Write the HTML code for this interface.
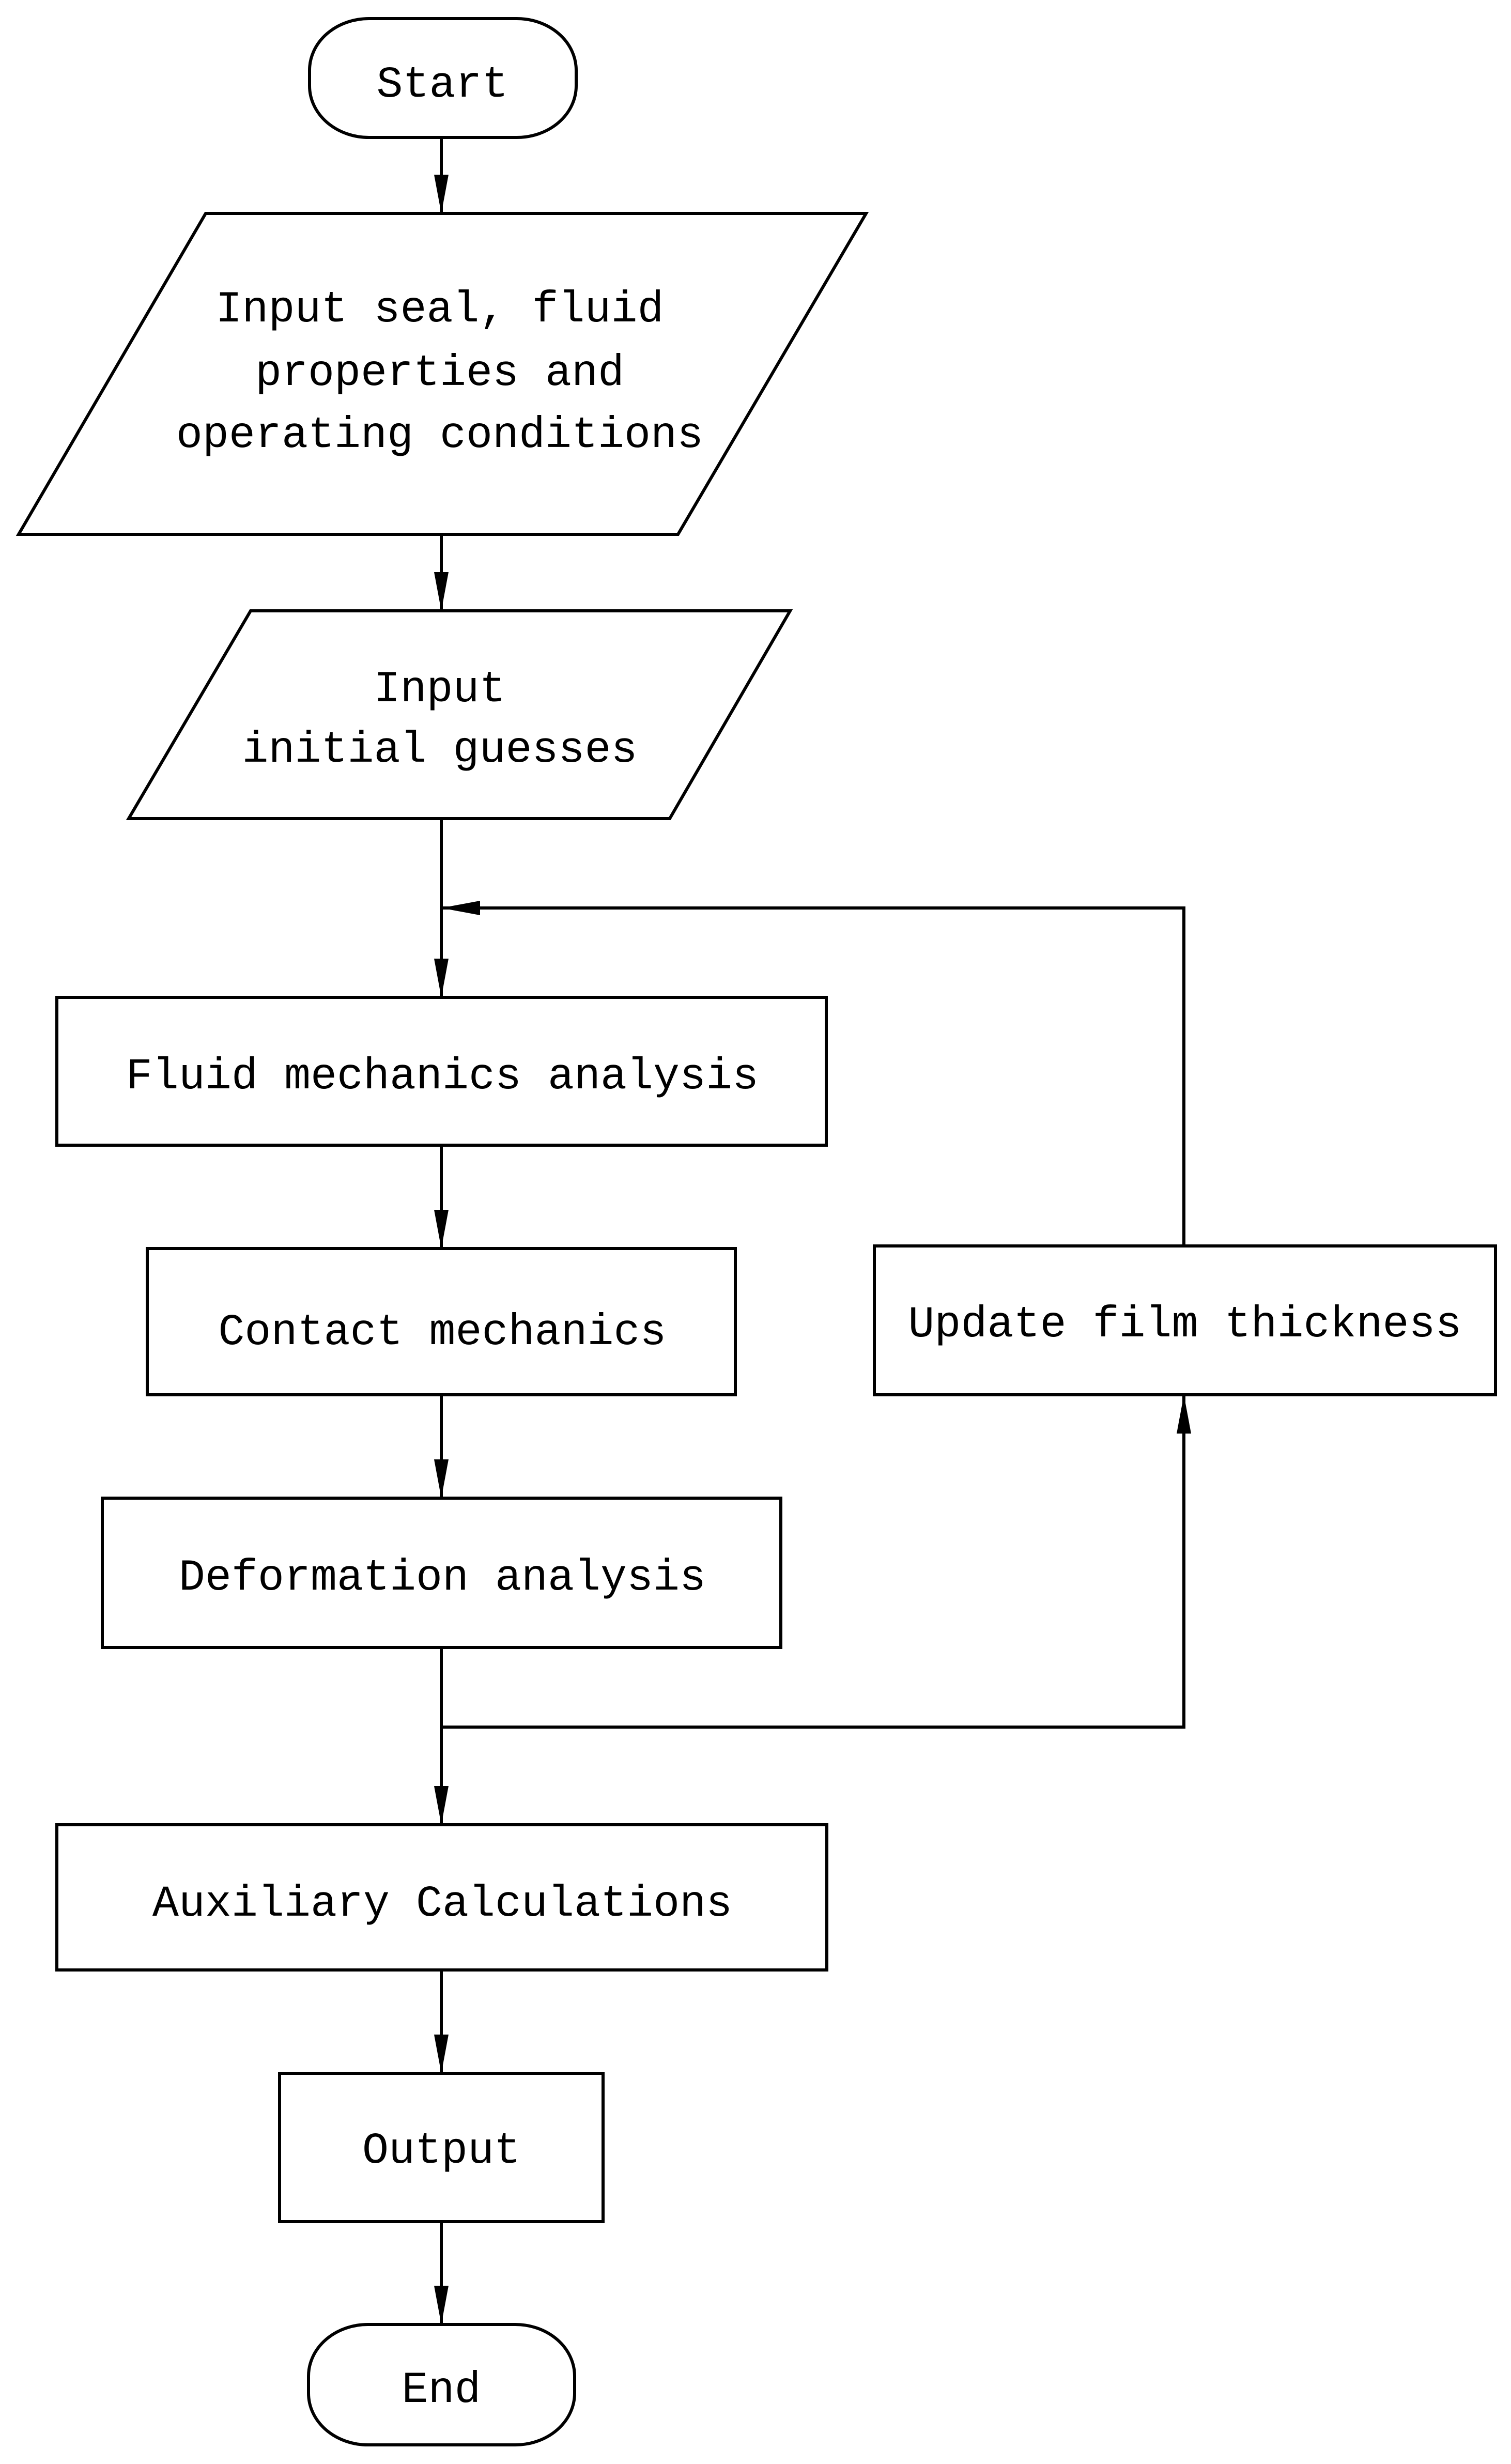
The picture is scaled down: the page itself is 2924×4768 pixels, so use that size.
<!DOCTYPE html>
<html><head><meta charset="utf-8"><style>
html,body{margin:0;padding:0;background:#fff;}
svg{display:block;}
text{font-family:"Liberation Mono","Noto Sans CJK SC",monospace;font-size:85px;fill:#000;text-anchor:middle;}
</style></head><body>
<svg width="2924" height="4768" viewBox="0 0 2924 4768" xmlns="http://www.w3.org/2000/svg">
<defs>
<marker id="a" markerUnits="userSpaceOnUse" markerWidth="30" markerHeight="76" refX="15" refY="76" orient="auto-start-reverse" viewBox="0 0 30 76">
</marker>
</defs>
<g fill="none" stroke="#000" stroke-width="6">
<!-- Start -->
<rect x="599" y="36" width="516" height="230" rx="115" ry="100"/>
<!-- para1 -->
<polygon points="398,413 1676,413 1312,1034 36,1034"/>
<!-- para2 -->
<polygon points="485,1182 1529,1182 1296,1584 249,1584"/>
<rect x="110" y="1930" width="1489" height="286"/>
<rect x="285" y="2416" width="1138" height="283"/>
<rect x="1692" y="2411" width="1202" height="288"/>
<rect x="198" y="2899" width="1313" height="289"/>
<rect x="110" y="3531" width="1490" height="281"/>
<rect x="541" y="4012" width="626" height="287"/>
<rect x="597" y="4498" width="515" height="233" rx="115" ry="100"/>
<!-- connectors -->
<line x1="854" y1="266" x2="854" y2="413"/>
<line x1="854" y1="1034" x2="854" y2="1182"/>
<line x1="854" y1="1584" x2="854" y2="1930"/>
<line x1="854" y1="2216" x2="854" y2="2416"/>
<line x1="854" y1="2699" x2="854" y2="2899"/>
<line x1="854" y1="3188" x2="854" y2="3531"/>
<line x1="854" y1="3812" x2="854" y2="4012"/>
<line x1="854" y1="4299" x2="854" y2="4498"/>
<polyline points="854,3342 2291,3342 2291,2699"/>
<polyline points="2291,2411 2291,1757 854,1757"/>
</g>
<g fill="#000">
<polygon points="840,338 868,338 854,413"/>
<polygon points="840,1107 868,1107 854,1182"/>
<polygon points="840,1855 868,1855 854,1930"/>
<polygon points="840,2341 868,2341 854,2416"/>
<polygon points="840,2824 868,2824 854,2899"/>
<polygon points="840,3456 868,3456 854,3531"/>
<polygon points="840,3937 868,3937 854,4012"/>
<polygon points="840,4423 868,4423 854,4498"/>
<polygon points="2277,2774 2305,2774 2291,2699"/>
<polygon points="929,1743 929,1771 854,1757"/>
</g>
<text x="856" y="187">Start</text>
<text x="851" y="622">Input seal, fluid</text>
<text x="851" y="745">properties and</text>
<text x="851" y="865">operating conditions</text>
<text x="851" y="1357">Input</text>
<text x="851" y="1474">initial guesses</text>
<text x="856" y="2106">Fluid mechanics analysis</text>
<text x="856" y="2601">Contact mechanics</text>
<text x="2293" y="2586">Update film thickness</text>
<text x="856" y="3076">Deformation analysis</text>
<text x="856" y="3707">Auxiliary Calculations</text>
<text x="854" y="4185">Output</text>
<text x="854" y="4648">End</text>
</svg>
</body></html>
